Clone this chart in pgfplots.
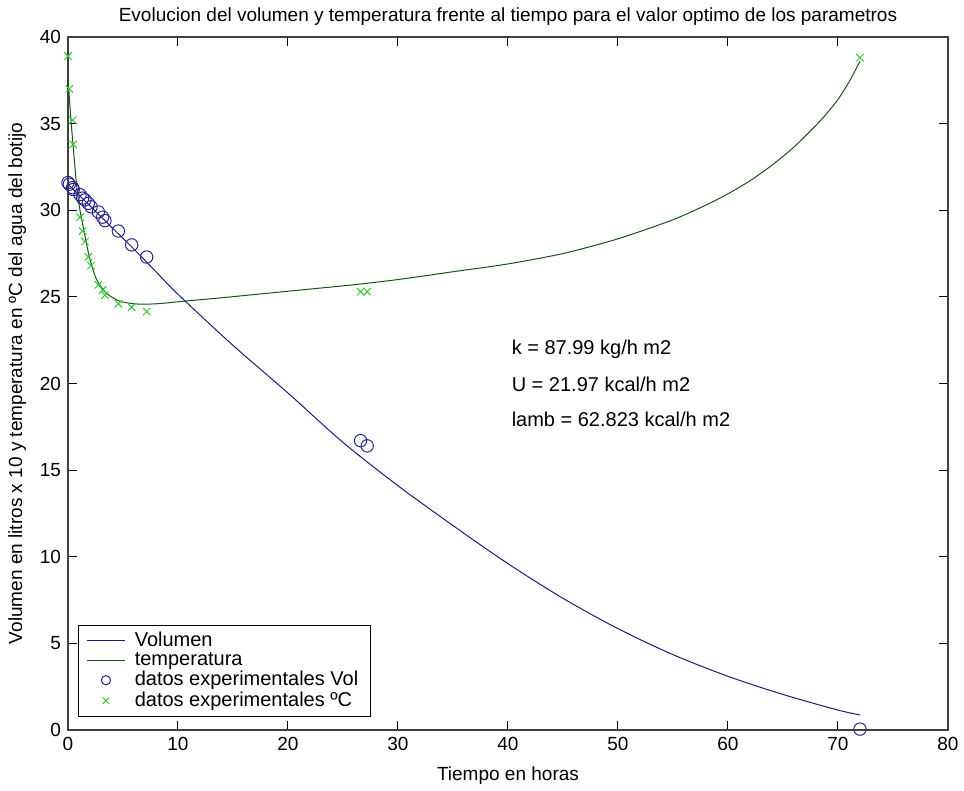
\documentclass[border=0pt]{standalone}
\usepackage{fontspec}
\setmainfont{Liberation Sans}
\usepackage{pgfplots}
\pgfplotsset{compat=1.18}
\definecolor{volcol}{RGB}{30,30,120}
\definecolor{tempcol}{RGB}{25,85,25}
\definecolor{circcol}{RGB}{40,40,140}
\definecolor{crosscol}{RGB}{50,200,50}

\begin{document}
\begin{tikzpicture}
\fill[white] (-34pt,-30.5pt) rectangle (448pt,365pt);
\begin{axis}[
  name=ax, at={(0,0)}, anchor=south west,
  scale only axis, width=440pt, height=346.5pt,
  xmin=0, xmax=80, ymin=0, ymax=40,
  xtick={0,10,...,80}, ytick={0,5,...,40},
  tick align=inside, tick pos=both, major tick length=4.5pt,
  axis line style={black!75, line width=0.6pt},
  every tick/.style={black, line width=0.5pt},
  /pgf/number format/assume math mode=true,
  tick label style={font=\fontsize{9.5}{11}\selectfont},
  label style={font=\fontsize{9.5}{11}\selectfont},
  xlabel={Tiempo en horas},
  ylabel={Volumen en litros x 10 y temperatura en ºC del agua del botijo},
  xlabel style={yshift=-1pt},
  title={Evolucion del volumen y temperatura frente al tiempo para el valor optimo de los parametros},
  title style={font=\fontsize{9.5}{11}\selectfont, at={(0.5,1)}, anchor=base, yshift=1.5pt},
  legend style={at={(0.011,0.019)}, anchor=south west, draw=black, line width=0.4pt,
    font=\fontsize{10}{11.2}\selectfont, cells={anchor=west}, inner xsep=4pt, inner ysep=1.5pt,
    row sep=-2.5pt, /tikz/every odd column/.append style={column sep=2.5pt}},
  legend image post style={line width=0.5pt},
  lineleg/.style={legend image code/.code={\draw[##1] (0cm,0cm) -- (0.68cm,0cm);}},
  markleg/.style={legend image code/.code={\draw[##1, mark size=2.3pt] plot coordinates {(0.34cm,0cm)};}},
]
% Volumen (modelo)
\addplot[volcol, line width=0.5pt, smooth, lineleg] coordinates {
 (0,31.5) (2,30.25) (4,29.0) (6,27.75) (8,26.45) (10,25.15) (15,22.2)
 (20,19.45) (25,16.6) (30,14.1) (35,11.8) (40,9.6) (45,7.6) (50,5.85)
 (55,4.35) (60,3.1) (65,2.05) (70,1.15) (72,0.87)
};
\addlegendentry{Volumen}
% temperatura (modelo)
\addplot[tempcol, line width=0.5pt, smooth, tension=0.4, lineleg] coordinates {
 (0,37.7) (0.2,35.8) (0.42,34.05) (0.79,31.4) (1.09,30.0) (1.55,28.5)
 (2.0,27.15) (2.6,26.0) (3.5,25.2) (4.7,24.75) (6,24.6) (7.15,24.58)
 (8.5,24.62) (10.5,24.75) (14,24.95) (18,25.2) (22,25.45) (26,25.7)
 (30,26.0) (35,26.45) (40,26.9) (45,27.5) (50,28.35) (55,29.45)
 (58,30.3) (60,30.95) (62,31.7) (64,32.6) (66,33.65) (68,34.9)
 (69,35.6) (70,36.4) (71,37.4) (72,38.6)
};
\addlegendentry{temperatura}
% datos experimentales Vol
\addplot[only marks, mark=o, mark size=3.1pt, circcol, mark options={line width=0.5pt}, markleg] coordinates {
 (0,31.6) (0.12,31.5) (0.42,31.3) (0.48,31.2) (1.09,30.9) (1.33,30.7)
 (1.55,30.6) (1.85,30.4) (2.1,30.2) (2.76,29.9) (3.15,29.6) (3.36,29.4)
 (4.58,28.8) (5.79,28.0) (7.15,27.3) (26.6,16.7) (27.2,16.4) (72,0.05)
};
\addlegendentry{datos experimentales Vol}
% datos experimentales temperatura
\addplot[only marks, mark=x, mark size=2.6pt, crosscol, mark options={line width=0.5pt}, markleg] coordinates {
 (0,38.9) (0.12,37.0) (0.42,35.2) (0.48,33.8) (1.09,29.6) (1.33,28.8)
 (1.55,28.2) (1.85,27.3) (2.1,26.8) (2.76,25.7) (3.15,25.4) (3.36,25.1)
 (4.58,24.6) (5.79,24.4) (7.15,24.15) (26.6,25.3) (27.2,25.3) (72,38.8)
};
\addlegendentry{datos experimentales ºC}
\node[anchor=west, font=\fontsize{10}{11}\selectfont] at (axis cs:39.7,21.95) {k = 87.99 kg/h m2};
\node[anchor=west, font=\fontsize{10}{11}\selectfont] at (axis cs:39.7,19.95) {U = 21.97 kcal/h m2};
\node[anchor=west, font=\fontsize{10}{11}\selectfont] at (axis cs:39.7,17.95) {lamb = 62.823 kcal/h m2};
\end{axis}
\pgfresetboundingbox
\path[use as bounding box] (-34pt,-30.5pt) rectangle (448pt,365pt);
\end{tikzpicture}
\end{document}
